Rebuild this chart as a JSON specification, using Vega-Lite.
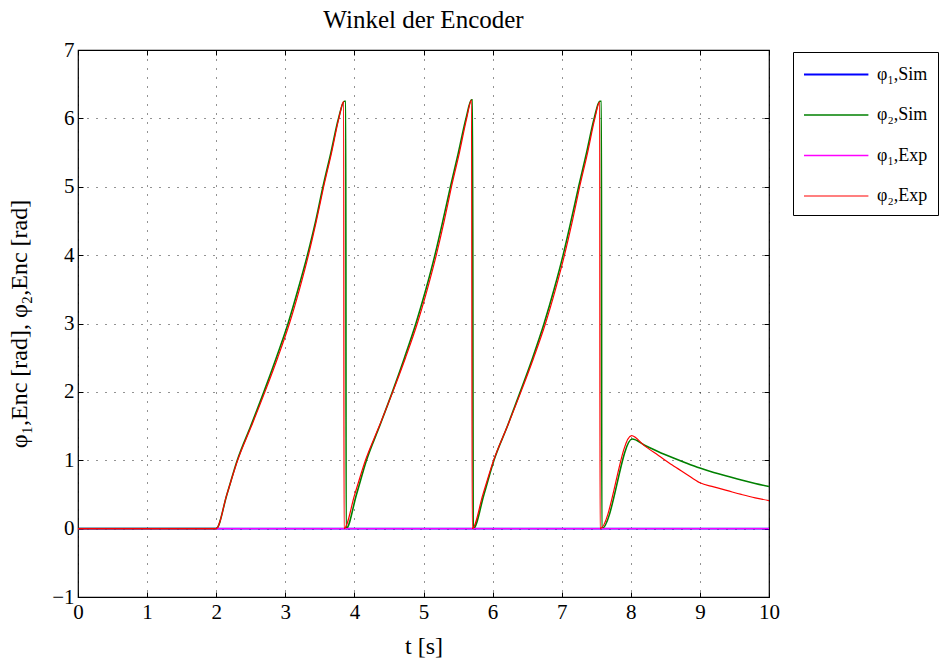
{
  "$schema": "https://vega.github.io/schema/vega-lite/v6.json",
  "autosize": {"type": "none"},
  "width": 691,
  "height": 547,
  "padding": {"left": 78, "top": 50, "right": 176, "bottom": 65},
  "background": "white",
  "title": {"text": "Winkel der Encoder", "font": "Liberation Serif", "fontSize": 25, "fontWeight": "normal", "color": "#000", "offset": 6},
  "config": {
    "view": {"stroke": "#000", "strokeWidth": 1.2},
    "axis": {"labelFont": "Liberation Serif", "titleFont": "Liberation Serif", "labelColor": "#000", "titleColor": "#000", "titleFontWeight": "normal", "labelFontSize": 21, "titleFontSize": 24, "domain": false, "labelFlush": false, "tickColor": "#000", "tickSize": -5, "gridColor": "#000", "gridDash": [1, 8], "gridOpacity": 0.85, "gridWidth": 1},
    "legend": {"labelFont": "Liberation Serif", "labelFontSize": 18, "labelColor": "#000"}
  },
  "data": {"values": [
    {"s": "φ₁,Sim", "i": 0, "t": 0, "v": 0},
    {"s": "φ₁,Sim", "i": 1, "t": 10, "v": 0},

    {"s": "φ₂,Sim", "i": 0, "t": 0, "v": 0},
    {"s": "φ₂,Sim", "i": 1, "t": 2.0, "v": 0},
    {"s": "φ₂,Sim", "i": 2, "t": 2.155, "v": 0.5},
    {"s": "φ₂,Sim", "i": 3, "t": 2.305, "v": 1.0},
    {"s": "φ₂,Sim", "i": 4, "t": 2.5, "v": 1.5},
    {"s": "φ₂,Sim", "i": 5, "t": 2.69, "v": 2.0},
    {"s": "φ₂,Sim", "i": 6, "t": 2.87, "v": 2.5},
    {"s": "φ₂,Sim", "i": 7, "t": 3.04, "v": 3.0},
    {"s": "φ₂,Sim", "i": 8, "t": 3.185, "v": 3.5},
    {"s": "φ₂,Sim", "i": 9, "t": 3.32, "v": 4.0},
    {"s": "φ₂,Sim", "i": 10, "t": 3.44, "v": 4.5},
    {"s": "φ₂,Sim", "i": 11, "t": 3.545, "v": 5.0},
    {"s": "φ₂,Sim", "i": 12, "t": 3.66, "v": 5.5},
    {"s": "φ₂,Sim", "i": 13, "t": 3.77, "v": 6.0},
    {"s": "φ₂,Sim", "i": 14, "t": 3.855, "v": 6.25},
    {"s": "φ₂,Sim", "i": 15, "t": 3.875, "v": 6.25},
    {"s": "φ₂,Sim", "i": 16, "t": 3.88, "v": 0},
    {"s": "φ₂,Sim", "i": 17, "t": 4.03, "v": 0.5},
    {"s": "φ₂,Sim", "i": 18, "t": 4.175, "v": 1.0},
    {"s": "φ₂,Sim", "i": 19, "t": 4.365, "v": 1.5},
    {"s": "φ₂,Sim", "i": 20, "t": 4.55, "v": 2.0},
    {"s": "φ₂,Sim", "i": 21, "t": 4.725, "v": 2.5},
    {"s": "φ₂,Sim", "i": 22, "t": 4.89, "v": 3.0},
    {"s": "φ₂,Sim", "i": 23, "t": 5.035, "v": 3.5},
    {"s": "φ₂,Sim", "i": 24, "t": 5.165, "v": 4.0},
    {"s": "φ₂,Sim", "i": 25, "t": 5.28, "v": 4.5},
    {"s": "φ₂,Sim", "i": 26, "t": 5.39, "v": 5.0},
    {"s": "φ₂,Sim", "i": 27, "t": 5.505, "v": 5.5},
    {"s": "φ₂,Sim", "i": 28, "t": 5.615, "v": 6.0},
    {"s": "φ₂,Sim", "i": 29, "t": 5.695, "v": 6.27},
    {"s": "φ₂,Sim", "i": 30, "t": 5.71, "v": 6.27},
    {"s": "φ₂,Sim", "i": 31, "t": 5.72, "v": 0},
    {"s": "φ₂,Sim", "i": 32, "t": 5.875, "v": 0.5},
    {"s": "φ₂,Sim", "i": 33, "t": 6.02, "v": 1.0},
    {"s": "φ₂,Sim", "i": 34, "t": 6.215, "v": 1.5},
    {"s": "φ₂,Sim", "i": 35, "t": 6.4, "v": 2.0},
    {"s": "φ₂,Sim", "i": 36, "t": 6.58, "v": 2.5},
    {"s": "φ₂,Sim", "i": 37, "t": 6.745, "v": 3.0},
    {"s": "φ₂,Sim", "i": 38, "t": 6.89, "v": 3.5},
    {"s": "φ₂,Sim", "i": 39, "t": 7.02, "v": 4.0},
    {"s": "φ₂,Sim", "i": 40, "t": 7.135, "v": 4.5},
    {"s": "φ₂,Sim", "i": 41, "t": 7.245, "v": 5.0},
    {"s": "φ₂,Sim", "i": 42, "t": 7.36, "v": 5.5},
    {"s": "φ₂,Sim", "i": 43, "t": 7.47, "v": 6.0},
    {"s": "φ₂,Sim", "i": 44, "t": 7.55, "v": 6.25},
    {"s": "φ₂,Sim", "i": 45, "t": 7.575, "v": 6.25},
    {"s": "φ₂,Sim", "i": 46, "t": 7.58, "v": 0},
    {"s": "φ₂,Sim", "i": 47, "t": 8.02, "v": 1.31},
    {"s": "φ₂,Sim", "i": 48, "t": 8.2, "v": 1.22},
    {"s": "φ₂,Sim", "i": 49, "t": 8.4, "v": 1.125},
    {"s": "φ₂,Sim", "i": 50, "t": 8.6, "v": 1.04},
    {"s": "φ₂,Sim", "i": 51, "t": 8.8, "v": 0.96},
    {"s": "φ₂,Sim", "i": 52, "t": 9.0, "v": 0.885},
    {"s": "φ₂,Sim", "i": 53, "t": 9.2, "v": 0.82},
    {"s": "φ₂,Sim", "i": 54, "t": 9.4, "v": 0.765},
    {"s": "φ₂,Sim", "i": 55, "t": 9.6, "v": 0.71},
    {"s": "φ₂,Sim", "i": 56, "t": 9.8, "v": 0.66},
    {"s": "φ₂,Sim", "i": 57, "t": 10, "v": 0.615},

    {"s": "φ₁,Exp", "i": 0, "t": 0, "v": 0},
    {"s": "φ₁,Exp", "i": 1, "t": 10, "v": 0},

    {"s": "φ₂,Exp", "i": 0, "t": 0, "v": 0},
    {"s": "φ₂,Exp", "i": 1, "t": 2.0, "v": 0},
    {"s": "φ₂,Exp", "i": 2, "t": 2.155, "v": 0.5},
    {"s": "φ₂,Exp", "i": 3, "t": 2.31, "v": 1.0},
    {"s": "φ₂,Exp", "i": 4, "t": 2.51, "v": 1.5},
    {"s": "φ₂,Exp", "i": 5, "t": 2.705, "v": 2.0},
    {"s": "φ₂,Exp", "i": 6, "t": 2.89, "v": 2.5},
    {"s": "φ₂,Exp", "i": 7, "t": 3.06, "v": 3.0},
    {"s": "φ₂,Exp", "i": 8, "t": 3.205, "v": 3.5},
    {"s": "φ₂,Exp", "i": 9, "t": 3.335, "v": 4.0},
    {"s": "φ₂,Exp", "i": 10, "t": 3.45, "v": 4.5},
    {"s": "φ₂,Exp", "i": 11, "t": 3.555, "v": 5.0},
    {"s": "φ₂,Exp", "i": 12, "t": 3.67, "v": 5.5},
    {"s": "φ₂,Exp", "i": 13, "t": 3.775, "v": 6.0},
    {"s": "φ₂,Exp", "i": 14, "t": 3.845, "v": 6.25},
    {"s": "φ₂,Exp", "i": 15, "t": 3.85, "v": 0},
    {"s": "φ₂,Exp", "i": 16, "t": 4.005, "v": 0.5},
    {"s": "φ₂,Exp", "i": 17, "t": 4.16, "v": 1.0},
    {"s": "φ₂,Exp", "i": 18, "t": 4.36, "v": 1.5},
    {"s": "φ₂,Exp", "i": 19, "t": 4.555, "v": 2.0},
    {"s": "φ₂,Exp", "i": 20, "t": 4.74, "v": 2.5},
    {"s": "φ₂,Exp", "i": 21, "t": 4.91, "v": 3.0},
    {"s": "φ₂,Exp", "i": 22, "t": 5.055, "v": 3.5},
    {"s": "φ₂,Exp", "i": 23, "t": 5.185, "v": 4.0},
    {"s": "φ₂,Exp", "i": 24, "t": 5.3, "v": 4.5},
    {"s": "φ₂,Exp", "i": 25, "t": 5.405, "v": 5.0},
    {"s": "φ₂,Exp", "i": 26, "t": 5.52, "v": 5.5},
    {"s": "φ₂,Exp", "i": 27, "t": 5.625, "v": 6.0},
    {"s": "φ₂,Exp", "i": 28, "t": 5.695, "v": 6.27},
    {"s": "φ₂,Exp", "i": 29, "t": 5.705, "v": 0},
    {"s": "φ₂,Exp", "i": 30, "t": 5.86, "v": 0.5},
    {"s": "φ₂,Exp", "i": 31, "t": 6.015, "v": 1.0},
    {"s": "φ₂,Exp", "i": 32, "t": 6.215, "v": 1.5},
    {"s": "φ₂,Exp", "i": 33, "t": 6.41, "v": 2.0},
    {"s": "φ₂,Exp", "i": 34, "t": 6.595, "v": 2.5},
    {"s": "φ₂,Exp", "i": 35, "t": 6.765, "v": 3.0},
    {"s": "φ₂,Exp", "i": 36, "t": 6.91, "v": 3.5},
    {"s": "φ₂,Exp", "i": 37, "t": 7.04, "v": 4.0},
    {"s": "φ₂,Exp", "i": 38, "t": 7.155, "v": 4.5},
    {"s": "φ₂,Exp", "i": 39, "t": 7.26, "v": 5.0},
    {"s": "φ₂,Exp", "i": 40, "t": 7.375, "v": 5.5},
    {"s": "φ₂,Exp", "i": 41, "t": 7.48, "v": 6.0},
    {"s": "φ₂,Exp", "i": 42, "t": 7.55, "v": 6.24},
    {"s": "φ₂,Exp", "i": 43, "t": 7.555, "v": 0},
    {"s": "φ₂,Exp", "i": 44, "t": 8.01, "v": 1.36},
    {"s": "φ₂,Exp", "i": 45, "t": 8.2, "v": 1.21},
    {"s": "φ₂,Exp", "i": 46, "t": 8.4, "v": 1.07},
    {"s": "φ₂,Exp", "i": 47, "t": 8.6, "v": 0.93},
    {"s": "φ₂,Exp", "i": 48, "t": 8.8, "v": 0.8},
    {"s": "φ₂,Exp", "i": 49, "t": 9.0, "v": 0.67},
    {"s": "φ₂,Exp", "i": 50, "t": 9.2, "v": 0.61},
    {"s": "φ₂,Exp", "i": 51, "t": 9.4, "v": 0.555},
    {"s": "φ₂,Exp", "i": 52, "t": 9.6, "v": 0.5},
    {"s": "φ₂,Exp", "i": 53, "t": 9.8, "v": 0.45},
    {"s": "φ₂,Exp", "i": 54, "t": 10, "v": 0.41}
  ]},
  "layer": [
    {
      "mark": {"type": "line", "interpolate": "monotone"},
      "encoding": {
        "x": {"field": "t", "type": "quantitative", "scale": {"domain": [0, 10], "nice": false}, "axis": {"title": "t [s]", "values": [0,1,2,3,4,5,6,7,8,9,10], "labelPadding": 9, "titlePadding": 12, "grid": true}},
        "y": {"field": "v", "type": "quantitative", "scale": {"domain": [-1, 7], "nice": false}, "axis": {"title": "φ₁,Enc [rad], φ₂,Enc [rad]", "values": [-1,0,1,2,3,4,5,6,7], "labelPadding": 9, "titlePadding": 20, "grid": true}},
        "order": {"field": "i", "type": "quantitative"},
        "strokeWidth": {"field": "s", "type": "nominal", "scale": {"domain": ["φ₁,Sim", "φ₂,Sim", "φ₁,Exp", "φ₂,Exp"], "range": [1.8, 1.2, 1.6, 1.2]}, "legend": null},
        "opacity": {"field": "s", "type": "nominal", "scale": {"domain": ["φ₁,Sim", "φ₂,Sim", "φ₁,Exp", "φ₂,Exp"], "range": [1, 1, 0.55, 1]}, "legend": null},
        "color": {"field": "s", "type": "nominal", "scale": {"domain": ["φ₁,Sim", "φ₂,Sim", "φ₁,Exp", "φ₂,Exp"], "range": ["#0000ff", "#008000", "#ff00ff", "#ff0000"]},
          "legend": {"title": null, "orient": "none", "legendX": 715, "legendY": 2, "symbolType": "M-1,0H4.6", "symbolSize": 529, "symbolStrokeWidth": 1.2, "symbolOpacity": 1, "rowPadding": 18.5, "labelOffset": 49, "padding": 10, "strokeColor": "#000", "fillColor": "#fff", "cornerRadius": 0}}
      }
    },
    {
      "mark": {"type": "line", "opacity": 0},
      "encoding": {
        "x": {"field": "t", "type": "quantitative", "axis": {"orient": "top", "title": null, "labels": false, "grid": false, "values": [0,1,2,3,4,5,6,7,8,9,10]}},
        "y": {"field": "v", "type": "quantitative", "axis": {"orient": "right", "title": null, "labels": false, "grid": false, "values": [-1,0,1,2,3,4,5,6,7]}},
        "detail": {"field": "s", "type": "nominal"},
        "order": {"field": "i", "type": "quantitative"}
      }
    }
  ],
  "resolve": {"axis": {"x": "independent", "y": "independent"}}
}
